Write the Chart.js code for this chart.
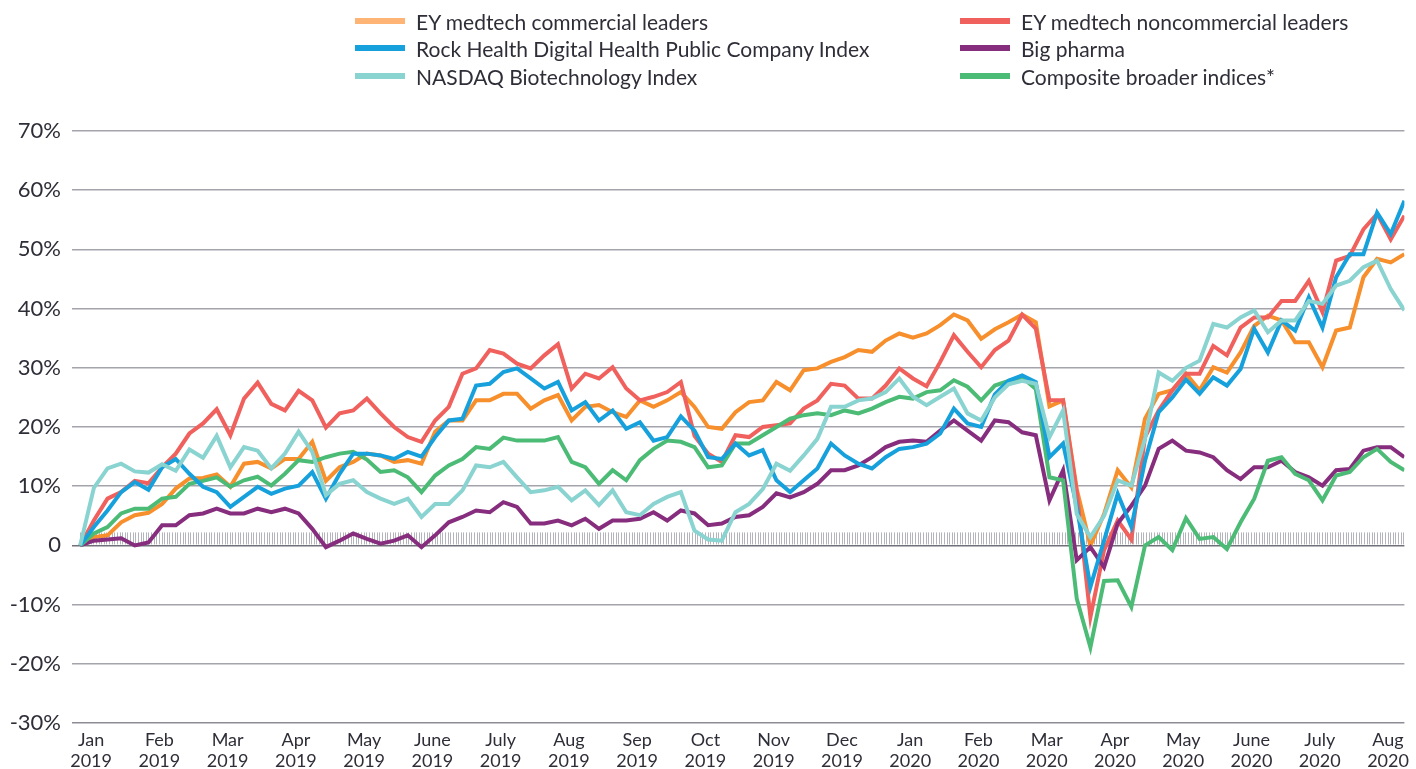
<!DOCTYPE html>
<html>
<head>
<meta charset="utf-8">
<script src="https://cdn.jsdelivr.net/npm/chart.js@4.4.1/dist/chart.umd.min.js"></script>
<style>
  html, body { margin: 0; padding: 0; background: #fff; }
  #wrap { position: relative; width: 1416px; height: 769px; }
  #legend { position: absolute; left: 0; top: 0; width: 1416px; height: 100px; font-family: Lato, sans-serif; font-size: 21px; color: #2e2e38; }
  .item { position: absolute; display: flex; align-items: center; height: 26px; white-space: nowrap; }
  .swatch { width: 50px; height: 6px; margin-right: 11px; }
</style>
</head>
<body>
<div id="wrap">
  <canvas id="chart" width="1416" height="769"></canvas>
  <div id="legend"></div>
</div>
<script>
// x positions: one value every 0.2 month starting Jan 2019
const stepMonths = 0.2;
const labelOffset = 0.16;

const monthLabels = ["Jan", "Feb", "Mar", "Apr", "May", "June", "July", "Aug", "Sep", "Oct", "Nov", "Dec",
  "Jan", "Feb", "Mar", "Apr", "May", "June", "July", "Aug"];
const yearLabels = ["2019", "2019", "2019", "2019", "2019", "2019", "2019", "2019", "2019", "2019", "2019", "2019",
  "2020", "2020", "2020", "2020", "2020", "2020", "2020", "2020"];

const seriesNames = [
  "EY medtech commercial leaders",
  "EY medtech noncommercial leaders",
  "Rock Health Digital Health Public Company Index",
  "Big pharma",
  "NASDAQ Biotechnology Index",
  "Composite broader indices*"
];
const seriesColors = ["#f68f2c", "#f0605c", "#16a0dc", "#872d7e", "#89d3d1", "#4cbb76"];
const legendColors = ["#fdb474", "#f0605c", "#16a0dc", "#872d7e", "#89d3d1", "#4cbb76"];

const eyCommercial = [
  0, 1.4, 1.7, 3.9, 5.1, 5.5, 7.0, 9.6, 11.3, 11.4, 12.0, 9.9, 13.8, 14.1, 13.0, 14.6, 14.6,
  17.5, 10.9, 13.2, 14.1, 15.5, 15.2, 14.1, 14.4, 13.8, 19.2, 21.1, 21.1, 24.5, 24.5, 25.6, 25.6, 23.1,
  24.5, 25.4, 21.1, 23.4, 23.7, 22.5, 21.7, 24.5, 23.4, 24.5, 25.9, 23.4, 20.0, 19.7, 22.5, 24.2, 24.5,
  27.6, 26.2, 29.6, 29.9, 31.0, 31.8, 33.0, 32.7, 34.6, 35.8, 35.1, 35.8, 37.2, 39.0, 38.0, 34.9, 36.5,
  37.7, 39.0, 37.7, 23.5, 24.5, 9.5, 0, 5.3, 12.7, 9.8, 21.4, 25.6, 26.2, 29.0,
  26.2, 30.1, 29.2, 32.6, 37.1, 38.8, 38.0, 34.3, 34.3, 30.1, 36.3, 36.8, 45.3, 48.4, 47.8, 49.2
];
const eyNoncommercial = [
  0, 4.2, 7.9, 9.0, 10.9, 10.5, 13.2, 15.5, 18.9, 20.6, 23.0, 18.6, 24.8, 27.5, 23.9, 22.8, 26.1,
  24.5, 19.9, 22.3, 22.8, 24.8, 22.3, 20.0, 18.3, 17.5, 21.1, 23.4, 29.0, 29.9, 33.0, 32.4, 30.7, 29.9,
  32.1, 34.0, 26.5, 29.0, 28.2, 30.1, 26.5, 24.5, 25.1, 25.9, 27.6, 18.5, 15.5, 14.1, 18.6, 18.3, 20.0,
  20.3, 20.6, 23.1, 24.5, 27.3, 27.0, 24.8, 24.8, 27.0, 29.9, 28.2, 26.9, 31.0, 35.5, 32.7, 30.1, 33.0,
  34.6, 39.0, 36.6, 24.5, 24.5, 9.0, -12.1, -0.8, 4.2, 1.0, 18.3, 22.8, 26.2, 29.0,
  29.0, 33.7, 32.1, 36.8, 38.5, 38.5, 41.3, 41.3, 44.7, 39.4, 48.1, 48.9, 53.4, 56.0, 51.7, 55.7
];
const rockHealth = [
  0, 3.1, 5.9, 9.0, 10.7, 9.4, 13.2, 14.6, 12.1, 9.9, 9.0, 6.5, 8.2, 9.9, 8.7, 9.6, 10.1,
  12.4, 7.9, 12.1, 15.5, 15.5, 15.2, 14.6, 15.8, 15.0, 18.3, 21.1, 21.4, 27.0, 27.3, 29.3, 29.9, 28.2,
  26.5, 27.6, 22.8, 24.2, 21.1, 22.8, 19.7, 20.8, 17.7, 18.3, 21.8, 19.4, 14.9, 14.6, 17.2, 15.2, 16.1,
  11.0, 9.0, 11.0, 13.0, 17.2, 15.2, 13.8, 13.0, 14.9, 16.3, 16.6, 17.2, 18.9, 23.1, 20.6, 20.0, 25.5,
  27.8, 28.7, 27.6, 14.9, 17.2, 6.5, -7.0, 0.8, 8.7, 3.1, 14.3, 22.5, 25.0, 28.0,
  25.6, 28.4, 27.0, 29.8, 36.6, 32.6, 38.0, 36.3, 41.9, 36.8, 45.3, 49.2, 49.2, 56.2, 52.6, 58.2
];
const bigPharma = [
  0, 0.8, 1.0, 1.2, 0, 0.5, 3.4, 3.4, 5.1, 5.4, 6.2, 5.4, 5.4, 6.2, 5.6, 6.2, 5.4,
  2.8, -0.3, 0.8, 2.0, 1.1, 0.3, 0.8, 1.7, -0.3, 1.7, 3.9, 4.8, 5.9, 5.6, 7.3, 6.5, 3.7,
  3.7, 4.2, 3.4, 4.5, 2.8, 4.2, 4.2, 4.5, 5.6, 4.2, 5.9, 5.4, 3.4, 3.7, 4.8, 5.1, 6.5,
  8.8, 8.1, 9.0, 10.4, 12.7, 12.7, 13.5, 14.9, 16.6, 17.5, 17.7, 17.5, 19.4, 21.1, 19.4, 17.7, 21.1,
  20.8, 19.1, 18.6, 7.6, 12.7, -2.5, -0.3, -3.7, 3.7, 6.7, 10.1, 16.3, 17.7, 16.0,
  15.7, 14.9, 12.7, 11.2, 13.2, 13.2, 14.3, 12.4, 11.5, 10.1, 12.7, 12.9, 16.0, 16.6, 16.6, 14.9
];
const nasdaqBiotech = [
  0, 9.7, 13.0, 13.8, 12.5, 12.3, 13.7, 12.6, 16.2, 14.8, 18.5, 13.2, 16.6, 16.0, 13.0, 15.5, 19.2,
  15.8, 8.5, 10.4, 11.0, 9.0, 7.9, 7.0, 7.9, 4.8, 7.0, 7.0, 9.3, 13.5, 13.2, 14.1, 11.5, 9.0,
  9.3, 9.9, 7.6, 9.3, 6.8, 9.3, 5.6, 5.1, 7.0, 8.2, 9.0, 2.5, 1.0, 0.8, 5.6, 7.0, 9.5,
  13.8, 12.6, 15.2, 18.0, 23.4, 23.4, 24.5, 24.8, 25.9, 28.2, 25.1, 23.7, 25.1, 26.5, 22.3, 21.1, 25.0,
  27.2, 27.8, 27.3, 18.3, 22.8, 5.3, 1.4, 5.0, 11.0, 10.1, 18.0, 29.2, 27.8, 30.0,
  31.2, 37.4, 36.8, 38.5, 39.7, 36.0, 38.0, 38.0, 41.3, 40.8, 43.9, 44.7, 47.0, 48.1, 43.3, 39.7
];
const composite = [
  0, 2.0, 3.1, 5.4, 6.2, 6.2, 7.9, 8.2, 10.4, 10.9, 11.5, 9.9, 11.0, 11.6, 10.1, 12.1, 14.4,
  14.1, 14.9, 15.5, 15.8, 14.5, 12.4, 12.7, 11.5, 9.0, 11.8, 13.5, 14.6, 16.6, 16.3, 18.2, 17.7, 17.7,
  17.7, 18.3, 14.1, 13.2, 10.4, 12.7, 11.0, 14.4, 16.3, 17.7, 17.5, 16.6, 13.2, 13.5, 17.2, 17.2, 18.6,
  20.0, 21.4, 22.0, 22.3, 22.0, 22.8, 22.3, 23.1, 24.2, 25.1, 24.8, 25.9, 26.2, 27.9, 26.8, 24.5, 27.0,
  27.8, 28.4, 26.4, 11.5, 11.0, -9.0, -17.2, -6.0, -5.9, -10.4, 0, 1.4, -0.8, 4.6,
  1.1, 1.4, -0.6, 3.9, 7.9, 14.3, 14.9, 12.1, 11.0, 7.6, 11.8, 12.4, 14.9, 16.3, 14.1, 12.7
];

const seriesValues = [eyCommercial, eyNoncommercial, rockHealth, bigPharma, nasdaqBiotech, composite];
const drawOrder = [6, 5, 2, 4, 1, 3];

const yTicks = [-30, -20, -10, 0, 10, 20, 30, 40, 50, 60, 70];

// legend (two columns, HTML text)
const legendCols = [355, 960];
const legendRows = [8, 35, 63];
const legendEl = document.getElementById("legend");
[[0, 0, 0], [1, 1, 0], [2, 0, 1], [3, 1, 1], [4, 0, 2], [5, 1, 2]].forEach(([idx, col, row]) => {
  const item = document.createElement("div");
  item.className = "item";
  item.style.left = legendCols[col] + "px";
  item.style.top = legendRows[row] + "px";
  item.innerHTML = '<span class="swatch" style="background:' + legendColors[idx] + '"></span>' + seriesNames[idx];
  legendEl.appendChild(item);
});

// small vertical marks along the zero line
const zeroTicks = {
  id: "zeroTicks",
  beforeDatasetsDraw(chart) {
    const x = chart.scales.x, y = chart.scales.y;
    const y0 = y.getPixelForValue(0);
    const ctx = chart.ctx;
    ctx.save();
    ctx.lineWidth = 1;
    ctx.strokeStyle = "#b4b4bc";
    for (let v = 0; v <= 19.4; v += 1 / 26) {
      const px = Math.round(x.getPixelForValue(v)) + 0.5;
      ctx.beginPath();
      ctx.moveTo(px, y0 - 1);
      ctx.lineTo(px, y0 - 13);
      ctx.stroke();
    }
    ctx.restore();
  }
};

const datasets = seriesValues.map((vals, i) => ({
  label: seriesNames[i],
  data: vals.map((v, k) => ({ x: k * stepMonths, y: v })),
  borderColor: seriesColors[i],
  borderWidth: 4,
  pointRadius: 0,
  tension: 0,
  order: drawOrder[i]
}));

new Chart(document.getElementById("chart"), {
  type: "line",
  data: { datasets },
  plugins: [zeroTicks],
  options: {
    responsive: false,
    animation: false,
    layout: { padding: { top: 131, right: 9, left: 0, bottom: 0 } },
    plugins: { legend: { display: false }, tooltip: { enabled: false } },
    scales: {
      x: {
        type: "linear",
        min: -0.12,
        max: 19.4,
        afterBuildTicks: (scale) => {
          scale.ticks = monthLabels.map((m, k) => ({ value: k + labelOffset }));
        },
        afterFit: (scale) => { scale.height = 46; },
        grid: { display: false, drawTicks: false },
        border: { display: false },
        ticks: {
          autoSkip: false,
          maxRotation: 0,
          padding: 7,
          color: "#2e2e38",
          font: { family: "Lato", size: 18, lineHeight: "21px" },
          callback: (value, index) => [monthLabels[index], yearLabels[index]]
        }
      },
      y: {
        min: -30,
        max: 70,
        afterBuildTicks: (scale) => {
          scale.ticks = yTicks.map(v => ({ value: v }));
        },
        afterFit: (scale) => { scale.width = 72; },
        border: { display: false },
        grid: {
          drawTicks: false,
          lineWidth: 1.5,
          color: (c) => c.tick && c.tick.value === 0 ? "#70707a" : (c.tick && c.tick.value === -30 ? "#8c8c96" : "#a4a4ac")
        },
        ticks: {
          padding: 11,
          color: "#2e2e38",
          font: { family: "Lato", size: 22 },
          callback: (v) => v === 0 ? "0" : v + "%"
        }
      }
    }
  }
});
</script>
</body>
</html>
